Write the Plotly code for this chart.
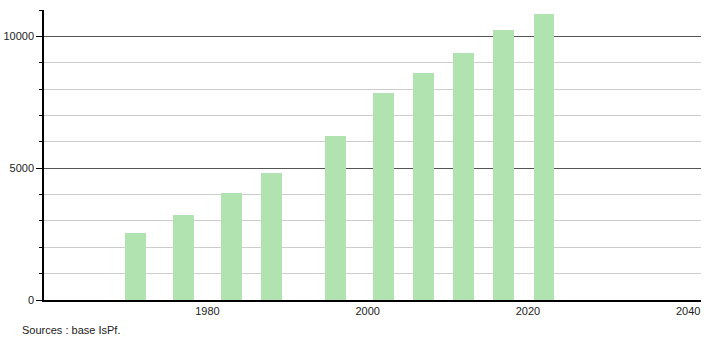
import plotly.graph_objects as go

years = [1971, 1977, 1983, 1988, 1996, 2002, 2007, 2012, 2017, 2022]
population = [2540, 3225, 4075, 4820, 6245, 7870, 8600, 9390, 10265, 10850]
x_ticks = [1980, 2000, 2020, 2040]
y_ticks = [0, 5000, 10000]
source_text = "Sources : base IsPf."

fig = go.Figure()
fig.add_trace(go.Bar(
    x=years, y=population, width=2.6,
    marker=dict(color="rgb(176,227,176)", line=dict(width=0)),
    hoverinfo="x+y",
))

fig.update_layout(
    width=710, height=340,
    margin=dict(l=44, r=9, t=10, b=40, autoexpand=False),
    paper_bgcolor="white", plot_bgcolor="white",
    font=dict(family="Liberation Sans, Arial, sans-serif", size=11, color="#222"),
    showlegend=False,
    bargap=0,
)
fig.update_xaxes(
    range=[1959.6, 2041.6], automargin=False,
    tickvals=x_ticks, ticktext=[str(v) for v in x_ticks],
    showgrid=False, zeroline=False,
    showline=True, linecolor="black", linewidth=1.5,
    ticks="", ticklen=0,
)
fig.update_yaxes(
    range=[0, 11010], automargin=False,
    tickvals=y_ticks, ticktext=[str(v) for v in y_ticks],
    showgrid=True, gridcolor="#555", gridwidth=1,
    zeroline=False,
    showline=True, linecolor="black", linewidth=1.5,
    ticks="outside", ticklen=6, tickcolor="black",
    minor=dict(dtick=1000, tick0=0, showgrid=True, gridcolor="#cccccc", gridwidth=1,
               ticks="outside", ticklen=3, tickcolor="black"),
)
fig.add_annotation(
    text=source_text, xref="paper", yref="paper",
    x=-24/657, y=-30/290, xanchor="left", yanchor="middle",
    showarrow=False, font=dict(size=11, color="#222"),
)
fig.write_html("out.html")
